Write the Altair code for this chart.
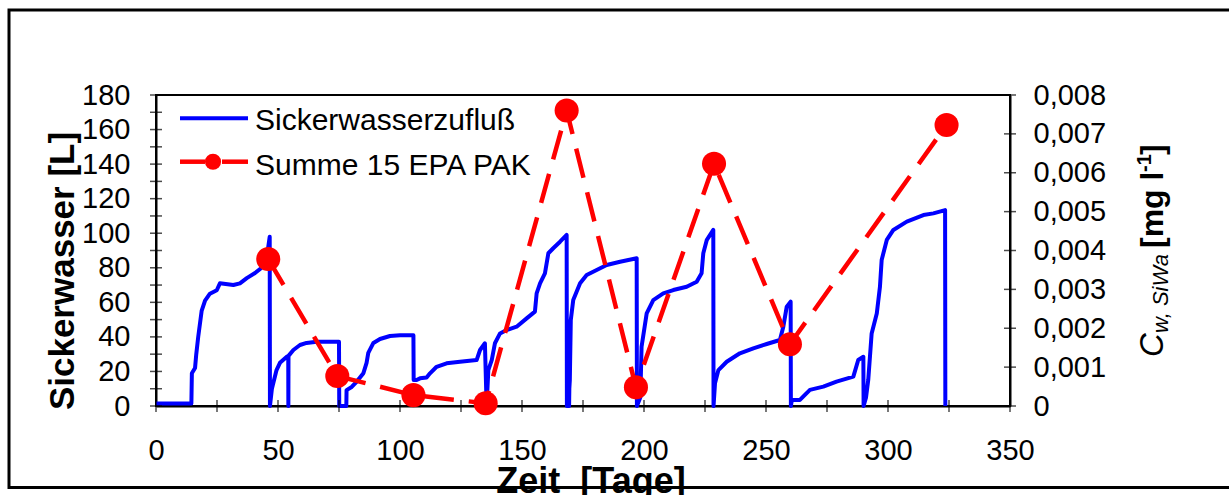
import altair as alt
import pandas as pd

# ---- data ----
blue_day = [0, 14.5, 14.7, 16.0, 16.5, 17.3, 18.7, 20.1, 22.1, 24.9, 26.2, 31.7, 34.4, 37.2, 40.6, 43.3, 45.4, 46.6, 46.7,
            47.5, 49.4, 50.8, 53.6, 54.2, 54.25, 54.3, 56.3, 59.0, 61.7, 65.9, 75.0, 75.1,
            78.0, 78.1, 80.2, 82.2, 85.0, 86.3, 87.0, 89.1, 91.8, 95.9, 100.0, 105.5, 105.6,
            106.8, 108.2, 110.9, 112.3, 115.0, 119.1, 124.6, 131.4, 132.8, 134.8, 135.5,
            136.2, 137.6, 138.9, 141.0, 143.7, 147.8, 151.9, 155.3, 156.0, 157.4, 159.4, 160.8, 162.8, 165.6, 168.3, 168.4,
            169.3, 169.4, 169.6, 170.0, 171.0, 173.8, 176.5, 180.6, 184.7, 190.2, 197.0, 197.1,
            198.5, 199.0, 201.1, 203.8, 207.9, 212.0, 217.5, 221.6, 223.6, 224.3, 225.7, 228.4, 228.5,
            229.1, 230.5, 233.9, 239.3, 244.8, 250.3, 255.7, 257.1, 258.5, 260.1, 260.2,
            260.6, 263.9, 268.0, 273.5, 278.9, 285.8, 287.8, 289.9, 290.0,
            291.0, 291.9, 293.3, 295.4, 296.7, 297.4, 299.5, 302.2, 307.7, 314.5, 318.6, 323.4, 323.5]
blue_L = [1.5, 1.5, 19, 22, 30, 40, 55, 61, 65, 67, 71, 70, 71, 74, 77, 80, 86, 98, 0,
          10, 20.8, 25, 28.5, 29, 0, 29, 32.4, 35.3, 36.5, 37.2, 37.2, 0,
          0, 9.2, 11, 14, 19, 25, 30.7, 36.5, 38.8, 40.5, 41, 41, 15,
          15, 16, 16.5, 18.9, 22.7, 24.7, 25.6, 26.6, 32.4, 36.3, 0,
          20.8, 26.6, 36.3, 42, 44, 45.9, 50.7, 54.6, 65.2, 71, 76.8, 88.4, 91.3, 95.1, 99, 0,
          0, 10, 15, 49.8, 61.3, 71, 75.8, 78.7, 81.6, 83.5, 85.5, 0,
          5, 34.3, 53.6, 61.3, 65.2, 67.1, 69, 71.9, 76.8, 88.4, 96, 101.9, 0,
          13.1, 20.8, 25.6, 30.5, 33.4, 35.9, 38.2, 45.9, 57.5, 60.4, 0,
          3.5, 3.5, 9.3, 11.2, 14.1, 17, 26.6, 28.5, 0,
          5, 15, 42, 53.6, 69, 84.5, 96.1, 101.9, 106.7, 110.5, 111.5, 113.4, 0]

pak_day = [46.0, 74.3, 105.5, 135.1, 168.3, 196.7, 228.7, 259.8, 324.0]
pak_conc = [0.00378, 0.00077, 0.00028, 0.00007, 0.0076, 0.00048, 0.00623, 0.00159, 0.00723]

x_tick_vals = [0, 25, 50, 75, 100, 125, 150, 175, 200, 225, 250, 275, 300, 325, 350]
x_label_vals = [0, 50, 100, 150, 200, 250, 300, 350]
yl_tick_vals = [0, 10, 20, 30, 40, 50, 60, 70, 80, 90, 100, 110, 120, 130, 140, 150, 160, 170, 180]
yl_label_vals = [0, 20, 40, 60, 80, 100, 120, 140, 160, 180]
yr_vals = [0, 0.001, 0.002, 0.003, 0.004, 0.005, 0.006, 0.007, 0.008]

legend_labels = ["Sickerwasserzufluß", "Summe 15 EPA PAK"]

W, H = 854, 311
FONT = "Liberation Sans"
BLUE = "#0000FF"
RED = "#FF0000"

df_blue = pd.DataFrame({"day": blue_day, "L": blue_L, "i": range(len(blue_day))})
df_pak = pd.DataFrame({"day": pak_day, "c": pak_conc})
one = pd.DataFrame({"k": [0]})

xscale = alt.Scale(domain=[0, 350], nice=False, zero=False)
ylscale = alt.Scale(domain=[0, 180], nice=False)
yrscale = alt.Scale(domain=[0, 0.008], nice=False)

xaxis = alt.Axis(values=x_label_vals, title=None, labelPadding=30, format="d",
                 ticks=False, tickSize=0, labelFlush=False, labelOverlap=False)
ylaxis = alt.Axis(orient="left", values=yl_label_vals, title=None, labelPadding=26, format="d",
                  ticks=False, tickSize=0, labelFlush=False, labelOverlap=False)
yraxis = alt.Axis(orient="right", values=yr_vals, title=None, labelPadding=23, ticks=False, tickSize=0,
                  labelFlush=False, labelOverlap=False,
                  labelExpr="datum.value == 0 ? '0' : replace(format(datum.value, '.3f'), '.', ',')")

blue = alt.Chart(df_blue).mark_line(color=BLUE, strokeWidth=4, strokeJoin="round").encode(
    x=alt.X("day:Q", scale=xscale, axis=xaxis),
    y=alt.Y("L:Q", scale=ylscale, axis=ylaxis),
    order="i:Q",
)

lticks = alt.Chart(pd.DataFrame({"v": yl_tick_vals})).mark_tick(
    color="black", thickness=1.5, size=12, orient="horizontal").encode(
    y=alt.Y("v:Q", scale=ylscale, axis=ylaxis),
    x=alt.value(0),
)
xticks = alt.Chart(pd.DataFrame({"v": x_tick_vals})).mark_tick(
    color="black", thickness=1.5, size=12, orient="vertical").encode(
    x=alt.X("v:Q", scale=xscale, axis=xaxis),
    y=alt.value(H),
)

# frame around the whole figure
frame = alt.Chart(one).mark_rect(fillOpacity=0, stroke="black", strokeWidth=3).encode(
    x=alt.value(-147), x2=alt.value(1090), y=alt.value(-85), y2=alt.value(392.5))

# axis titles
xtitle = alt.Chart(one).mark_text(font=FONT, fontSize=36, fontWeight="bold", color="black",
                                  align="center", baseline="alphabetic").encode(
    x=alt.value(435), y=alt.value(398), text=alt.value("Zeit\u00a0\u00a0[Tage]"))
ltitle = alt.Chart(one).mark_text(font=FONT, fontSize=35, fontWeight="bold", color="black",
                                  align="center", baseline="alphabetic", angle=270).encode(
    x=alt.value(-82), y=alt.value(176), text=alt.value("Sickerwasser [L]"))

def rtext(txt, xv, yv, size, style="normal", weight="normal"):
    return alt.Chart(one).mark_text(font=FONT, fontSize=size, fontStyle=style, fontWeight=weight,
                                    color="black", align="left", baseline="alphabetic", angle=270).encode(
        x=alt.value(xv), y=alt.value(yv), text=alt.value(txt))

r1 = rtext("C", 1007, 262, 33, style="italic")
r2 = rtext("w, SiWa", 1012, 238, 22, style="italic")
r3 = rtext("[mg l", 1007, 153, 32, weight="bold")
r4 = rtext("-1", 995, 77, 20, weight="bold")
r5 = rtext("]", 1007, 60, 32, weight="bold")

# legend
leg_blue = alt.Chart(one).mark_rule(color=BLUE, strokeWidth=4).encode(
    x=alt.value(24), x2=alt.value(92), y=alt.value(23.3))
leg_red1 = alt.Chart(one).mark_rule(color=RED, strokeWidth=4.5).encode(
    x=alt.value(24), x2=alt.value(49), y=alt.value(66.7))
leg_red2 = alt.Chart(one).mark_rule(color=RED, strokeWidth=4.5).encode(
    x=alt.value(66), x2=alt.value(92), y=alt.value(66.7))
leg_dot = alt.Chart(one).mark_circle(color=RED, opacity=1, size=260).encode(
    x=alt.value(57), y=alt.value(66.7))
leg_t1 = alt.Chart(one).mark_text(font=FONT, fontSize=30, color="black", align="left",
                                  baseline="alphabetic").encode(
    x=alt.value(99), y=alt.value(35), text=alt.value(legend_labels[0]))
leg_t2 = alt.Chart(one).mark_text(font=FONT, fontSize=30, color="black", align="left",
                                  baseline="alphabetic").encode(
    x=alt.value(99), y=alt.value(80), text=alt.value(legend_labels[1]))

red_line = alt.Chart(df_pak).mark_line(color=RED, strokeWidth=4.5, strokeDash=[30, 15]).encode(
    x=alt.X("day:Q", scale=xscale, axis=xaxis),
    y=alt.Y("c:Q", scale=yrscale, axis=yraxis),
)
red_pts = alt.Chart(df_pak).mark_circle(color=RED, opacity=1, size=580).encode(
    x=alt.X("day:Q", scale=xscale, axis=xaxis),
    y=alt.Y("c:Q", scale=yrscale, axis=yraxis),
)
rticks = alt.Chart(pd.DataFrame({"v": yr_vals})).mark_tick(
    color="black", thickness=1.5, size=12, orient="horizontal").encode(
    y=alt.Y("v:Q", scale=yrscale, axis=yraxis),
    x=alt.value(W),
)

left_group = alt.layer(blue, lticks, xticks, frame, xtitle, ltitle, r1, r2, r3, r4, r5,
                       leg_blue, leg_red1, leg_red2, leg_dot, leg_t1, leg_t2)
right_group = alt.layer(red_line, red_pts, rticks)

chart = alt.layer(left_group, right_group).resolve_scale(y="independent").properties(
    width=W, height=H,
    padding={"left": 156, "top": 95, "right": 1229 - 156 - W, "bottom": 495 - 95 - H},
    autosize=alt.AutoSizeParams(type="none"),
    background="white",
).configure_axis(
    domainColor="black", domainWidth=2, grid=False,
    labelFont=FONT, labelFontSize=29, labelColor="black",
).configure_view(stroke="black", strokeWidth=2)

chart.save("out.html", embed_options={"renderer": "svg", "actions": False})
